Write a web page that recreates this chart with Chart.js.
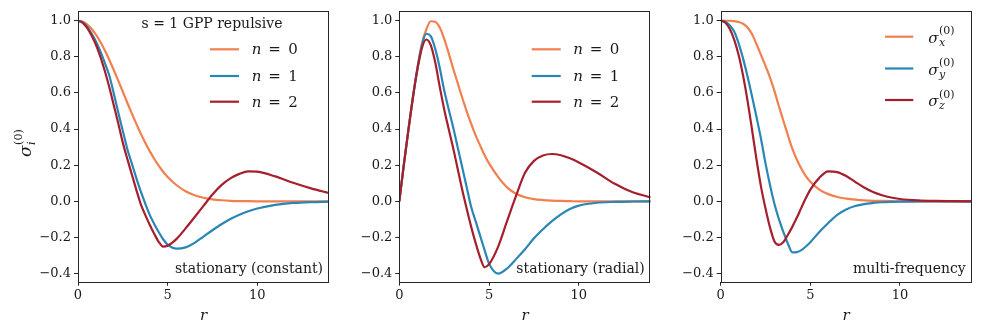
<!DOCTYPE html>
<html><head><meta charset="utf-8">
<script src="https://cdn.jsdelivr.net/npm/chart.js@4/dist/chart.umd.min.js"></script>
<style>
html,body{margin:0;padding:0;background:#fff;}
#wrap{position:relative;width:981px;height:334px;overflow:hidden;background:#fff;}
canvas{position:absolute;top:0;}
</style></head><body>
<div id="wrap">
<canvas id="c1" style="left:0px;width:335px;height:334px" width="335" height="334"></canvas>
<canvas id="c2" style="left:335px;width:325px;height:334px" width="325" height="334"></canvas>
<canvas id="c3" style="left:660px;width:321px;height:334px" width="321" height="334"></canvas>
</div>
<script>
// ---- data ----
const r = [0,0.25,0.5,0.75,1,1.25,1.5,1.75,2,2.25,2.5,2.75,3,3.25,3.5,3.75,4,4.25,4.5,4.75,5,
           5.5,6,6.5,7,7.5,8,8.5,9,9.5,10,11,12,13,14];
const xTicks = [0,5,10];
const yTicks = [-0.4,-0.2,0,0.2,0.4,0.6,0.8,1.0];

// panel 1: stationary (constant)
const constN0 = [1,.995,.980,.956,.923,.882,.835,.783,.726,.667,.607,.546,.487,.430,.375,.325,.278,.236,.198,.164,.135,
                 .089,.056,.034,.020,.011,.006,.003,.0015,.0007,.0003,0,0,0,0];
const constN1 = [1,.992,.968,.930,.885,.830,.765,.695,.595,.490,.390,.290,.210,.130,.055,-.012,-.075,-.125,-.170,-.210,-.240,
                 -.262,-.255,-.230,-.195,-.160,-.127,-.098,-.074,-.055,-.040,-.020,-.009,-.004,-.002];
const constN2 = [1,.990,.962,.920,.867,.800,.720,.630,.530,.430,.325,.235,.150,.065,-.015,-.075,-.130,-.180,-.224,-.251,-.246,
                 -.208,-.150,-.088,-.025,.038,.090,.127,.152,.166,.164,.138,.103,.072,.046];
// panel 2: stationary (radial)
const radN0 = [0,.200,.390,.570,.735,.870,.950,.997,.994,.962,.900,.820,.735,.655,.575,.500,.430,.365,.310,.255,.210,
               .135,.077,.042,.023,.012,.007,.004,.002,.001,0,0,0,0,0];
const radN1 = [0,.200,.390,.570,.730,.860,.928,.915,.845,.740,.615,.510,.410,.300,.190,.080,-.030,-.110,-.190,-.270,-.345,
               -.400,-.372,-.320,-.265,-.205,-.155,-.110,-.072,-.042,-.024,-.008,-.003,-.001,0];
const radN2 = [0,.200,.390,.570,.725,.845,.896,.865,.770,.635,.510,.400,.295,.180,.065,-.040,-.140,-.230,-.310,-.365,-.348,
               -.252,-.110,.030,.158,.224,.254,.262,.255,.238,.215,.160,.097,.050,.022];
// panel 3: multi-frequency
const multiX = [1,1,1,.998,.993,.983,.963,.925,.870,.810,.750,.685,.610,.525,.445,.365,.290,.230,.180,.140,.108,
                .065,.040,.024,.015,.009,.005,.003,.002,.001,0,0,0,0,0];
const multiY = [1,.995,.975,.940,.875,.790,.690,.580,.465,.345,.210,.090,-.015,-.100,-.170,-.235,-.283,-.281,-.270,-.250,-.226,
                -.170,-.120,-.075,-.045,-.026,-.015,-.009,-.005,-.003,-.002,-.001,0,0,0];
const multiZ = [1,.990,.955,.895,.810,.695,.555,.395,.230,.080,-.040,-.145,-.222,-.241,-.225,-.185,-.140,-.090,-.035,.018,.065,
                .130,.166,.162,.140,.108,.077,.052,.034,.021,.013,.005,.002,.001,0];

const nLabels = ['0','1','2'];
const sigmaSubs = ['x','y','z'];
const panelNotes = ['stationary (constant)','stationary (radial)','multi-frequency'];
const topNote = 's = 1 GPP repulsive';

const COLORS = ['#f27f4e','#2a86b5','#a51f2d'];
const TXT = '#1a1a1a';
const FONT = '"DejaVu Serif", serif';

function fmtY(v){
  const s = Math.abs(v).toFixed(1);
  return (v < -1e-9 ? '\u2212' : '') + s;
}

function drawSigma(ctx, x, y, size, sub, supSize){
  ctx.font = 'italic ' + size + 'px ' + FONT;
  ctx.textAlign = 'left';
  ctx.textBaseline = 'alphabetic';
  ctx.fillText('\u03c3', x, y);
  const w = ctx.measureText('\u03c3').width;
  ctx.font = supSize + 'px ' + FONT;
  ctx.fillText('(0)', x + w + 0.5, y - size*0.55);
  ctx.font = 'italic ' + supSize + 'px ' + FONT;
  ctx.fillText(sub, x + w + 0.5, y + size*0.22);
}

function makeChart(id, series, opts){
  const ctxEl = document.getElementById(id);
  const overlay = {
    id: 'overlay_' + id,
    afterDatasetsDraw(chart){
      const ctx = chart.ctx, a = chart.chartArea;
      ctx.save();
      ctx.strokeStyle = '#262626';
      ctx.lineWidth = 1;
      ctx.strokeRect(Math.round(a.left)+0.5, Math.round(a.top)+0.5, Math.round(a.right-a.left)-1, Math.round(a.bottom-a.top));
      ctx.restore();
    },
    afterDraw(chart){
      const ctx = chart.ctx, a = chart.chartArea;
      ctx.save();
      ctx.fillStyle = TXT;
      ctx.font = 'italic 15px ' + FONT;
      ctx.textAlign = 'center';
      ctx.textBaseline = 'alphabetic';
      ctx.fillText('r', (a.left + a.right)/2, 320);
      ctx.font = '14px ' + FONT;
      ctx.textAlign = 'right';
      ctx.fillText(opts.note, a.right - 6, 272.5);
      if (opts.top){
        ctx.textAlign = 'center';
        ctx.fillText(opts.top, a.left + 134, 28.3);
      }
      if (opts.ylabel){
        ctx.save();
        ctx.translate(31, 157);
        ctx.rotate(-Math.PI/2);
        drawSigma(ctx, 0, 0, 17, 'i', 11);
        ctx.restore();
      }
      const L = opts.legend;
      for (let i = 0; i < series.length; i++){
        const y = L.rows[i];
        ctx.strokeStyle = series[i].color;
        ctx.lineWidth = 2.2;
        ctx.beginPath();
        ctx.moveTo(a.left + L.x0, y);
        ctx.lineTo(a.left + L.x1, y);
        ctx.stroke();
        ctx.fillStyle = TXT;
        if (L.kind === 'n'){
          const tx = a.left + L.tx;
          ctx.textBaseline = 'alphabetic';
          ctx.textAlign = 'left';
          ctx.font = 'italic 15px ' + FONT;
          ctx.fillText('n', tx, y + 5);
          ctx.font = '15px ' + FONT;
          ctx.fillText('=', tx + 16.5, y + 5);
          ctx.fillText(nLabels[i], tx + 36.5, y + 5);
        } else {
          drawSigma(ctx, a.left + L.tx, y + 6, 15, sigmaSubs[i], 11);
        }
      }
      ctx.restore();
    }
  };
  return new Chart(ctxEl, {
    type: 'line',
    data: {
      datasets: series.map((s, i) => ({
        data: r.map((x, k) => ({x: x, y: s.values[k]})),
        borderColor: s.color,
        backgroundColor: s.color,
        borderWidth: 2.2,
        pointRadius: 0,
        cubicInterpolationMode: 'monotone',
        fill: false,
        order: series.length - i
      }))
    },
    options: {
      responsive: false,
      animation: false,
      events: [],
      layout: {padding: {left: 0, right: opts.padR, top: 8.3, bottom: 0}},
      plugins: {legend: {display: false}, tooltip: {enabled: false}},
      scales: {
        x: {
          type: 'linear', min: 0, max: 14,
          afterBuildTicks: sc => { sc.ticks = xTicks.map(v => ({value: v})); },
          afterFit: sc => { sc.height = 52.3; },
          grid: {drawOnChartArea: false, drawTicks: true, tickLength: 4, tickColor: '#262626', tickWidth: 1},
          border: {display: false},
          ticks: {font: {family: FONT, size: 13}, color: TXT, padding: 2, maxRotation: 0,
                  callback: v => String(v)}
        },
        y: {
          type: 'linear', min: -0.445, max: 1.055,
          afterBuildTicks: sc => { sc.ticks = yTicks.map(v => ({value: v})); },
          afterFit: sc => { sc.width = opts.yw; },
          grid: {drawOnChartArea: false, drawTicks: true, tickLength: 4, tickColor: '#262626', tickWidth: 1},
          border: {display: false},
          ticks: {font: {family: FONT, size: 13}, color: TXT, padding: 3, callback: v => fmtY(v)}
        }
      }
    },
    plugins: [overlay]
  });
}

makeChart('c1', [
  {values: constN0, color: COLORS[0]},
  {values: constN1, color: COLORS[1]},
  {values: constN2, color: COLORS[2]}
], {yw: 78, padR: 6, note: panelNotes[0], top: topNote, ylabel: true,
    legend: {kind: 'n', x0: 132, x1: 161, tx: 173.7, rows: [49.3, 76, 101.7]}});

makeChart('c2', [
  {values: radN0, color: COLORS[0]},
  {values: radN1, color: COLORS[1]},
  {values: radN2, color: COLORS[2]}
], {yw: 64.3, padR: 9.3, note: panelNotes[1],
    legend: {kind: 'n', x0: 132.4, x1: 161.4, tx: 174, rows: [49.3, 76, 101.7]}});

makeChart('c3', [
  {values: multiX, color: COLORS[0]},
  {values: multiY, color: COLORS[1]},
  {values: multiZ, color: COLORS[2]}
], {yw: 60.7, padR: 9.3, note: panelNotes[2],
    legend: {kind: 's', x0: 164.3, x1: 192.6, tx: 207.6, rows: [36.7, 68.5, 100]}});
</script>
</body></html>
